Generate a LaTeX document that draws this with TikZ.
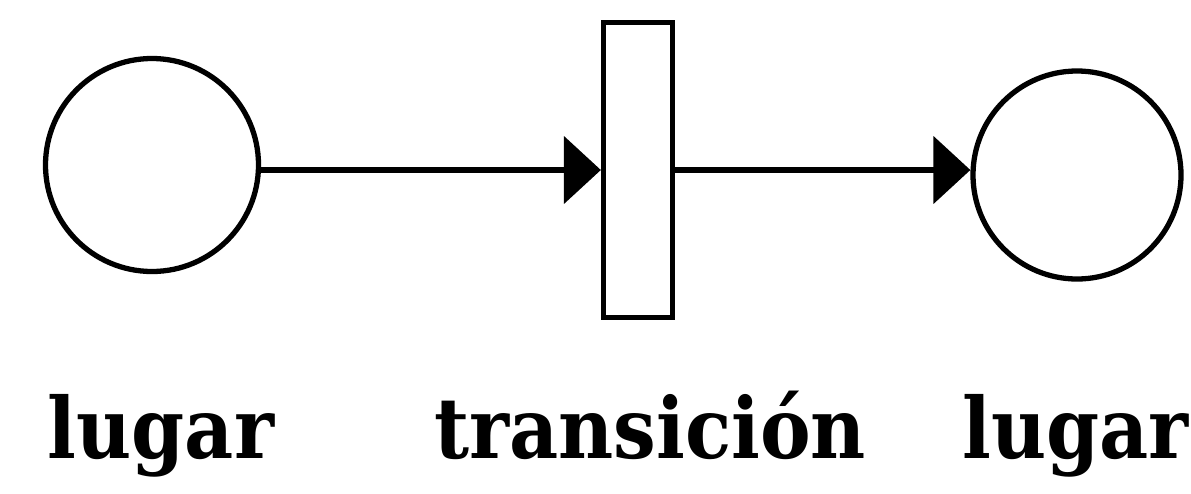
\documentclass[tikz,border=0pt]{standalone}
\usepackage{fontspec}
\newfontfamily\rotulo{DejaVu Serif Condensed}
\usetikzlibrary{arrows.meta,positioning}

\begin{document}
\begin{tikzpicture}[
  lugar/.style={draw, circle, line width=3pt, inner sep=0pt, minimum size=4.26cm},
  transicion/.style={draw, rectangle, line width=3pt, inner sep=0pt, minimum width=1.38cm, minimum height=5.9cm},
  arco/.style={line width=3pt, -{Triangle[length=21pt, width=38pt]}},
  etiqueta/.style={anchor=base, inner sep=0pt, font=\rotulo\bfseries\fontsize{48}{56}\selectfont}
]
\useasboundingbox (0,0) rectangle (23.82,9.86);

\node[lugar] (lugarA) at (3.04,6.56) {};
\node[transicion] (trans) at (12.76,6.46) {};
\node[lugar, minimum size=4.16cm] (lugarB) at (21.54,6.36) {};

\draw[arco] (lugarA.east |- trans) -- (trans.west);
\draw[arco] (trans.east) -- (lugarB.west |- trans);

\node[etiqueta] (etqA) at (3.22,0.7) {lugar};
\node[etiqueta] (etqT) at (13.0,0.7) {transición};
\node[etiqueta, anchor=base west] (etqB) at (19.24,0.7) {lugar};
\end{tikzpicture}
\end{document}
